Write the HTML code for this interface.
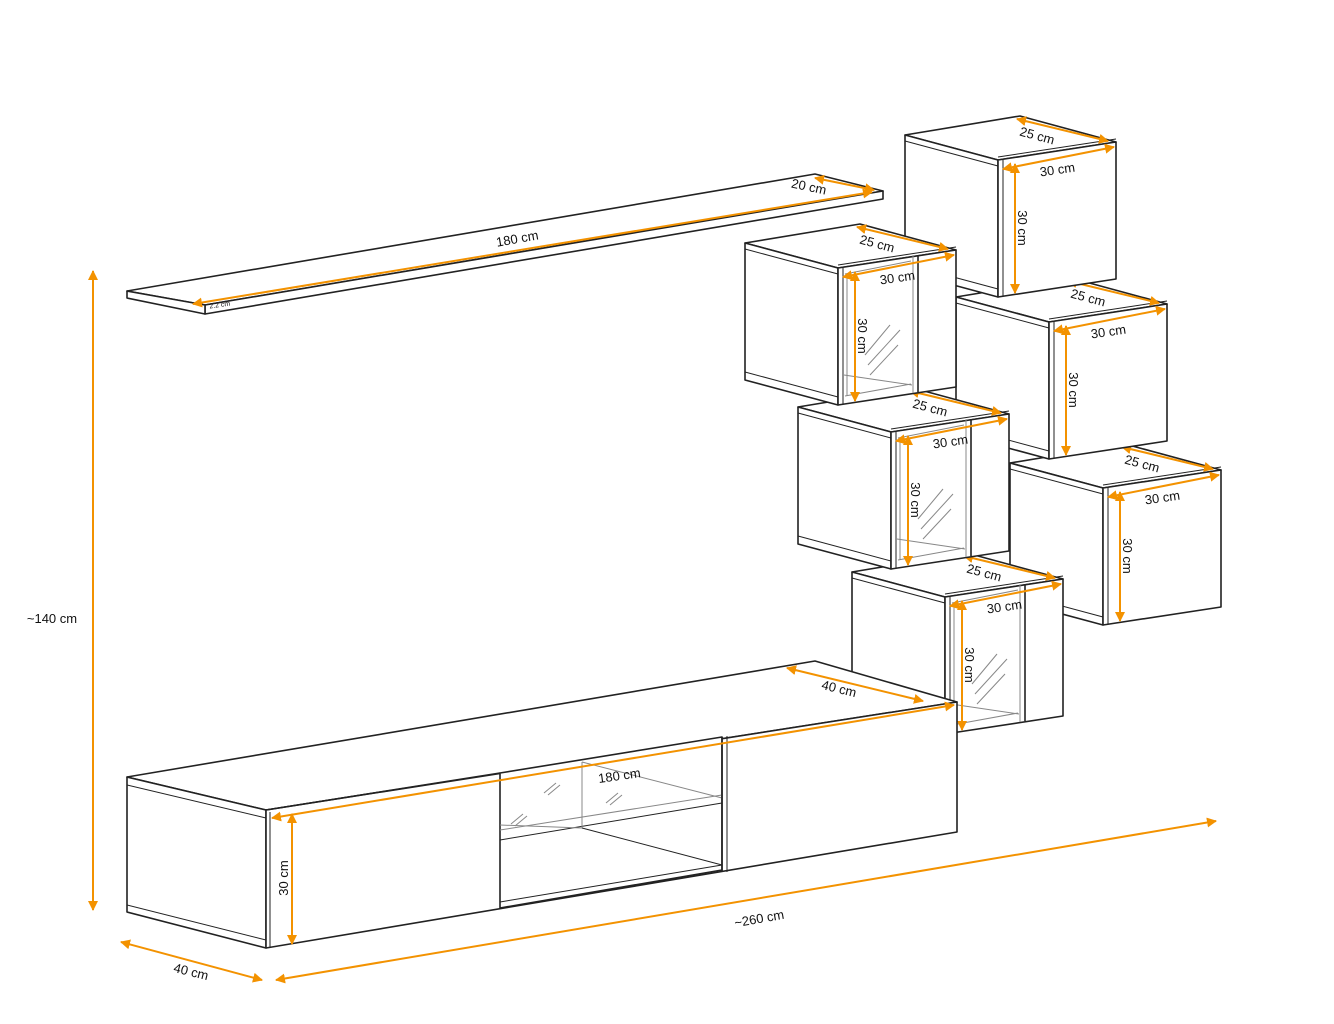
<!DOCTYPE html>
<html><head><meta charset="utf-8"><style>
html,body{margin:0;padding:0;background:#fff;}
svg{display:block;}
text{font-family:"Liberation Sans",sans-serif;font-size:13px;fill:#111;}
</style></head><body>
<svg id="s" width="1334" height="1024" viewBox="0 0 1334 1024" xmlns="http://www.w3.org/2000/svg">
<defs>
<marker id="a" viewBox="0 0 10 10" refX="9" refY="5" markerWidth="5" markerHeight="5" orient="auto-start-reverse"><path d="M0,0L10,5L0,10z" fill="#f39200"/></marker>
</defs>
<g id="g" stroke="#222" stroke-width="1.6" fill="#fff" stroke-linejoin="round"></g>
</svg>
<script>
var g=document.getElementById('g');var h='';
function P(pts,extra){h+='<polygon points="'+pts.map(p=>p.join(',')).join(' ')+'" '+(extra||'')+'/>';}
function L(a,b,st){h+='<line x1="'+a[0]+'" y1="'+a[1]+'" x2="'+b[0]+'" y2="'+b[1]+'" '+(st||'')+'/>';}
function D(a,b){L(a,b,'stroke="#f39200" stroke-width="2" marker-start="url(#a)" marker-end="url(#a)"');}
function T(x,y,t,r,fs){h+='<text x="'+x+'" y="'+y+'" stroke="none" text-anchor="middle" transform="rotate('+r+' '+x+' '+y+')"'+(fs?' style="font-size:'+fs+'px"':'')+'>'+t+'</text>';}
var G='stroke="#888" stroke-width="1"';
function cube(fx,fy,glass){
 var bl=[fx-93,fy-25],br=[fx+22,fy-44],fr=[fx+118,fy-18],H=137;
 P([bl,br,fr,[fx,fy]]);
 P([bl,[fx,fy],[fx,fy+H],[bl[0],bl[1]+H]]);
 L([bl[0],bl[1]+6],[fx,fy+6],'stroke-width="1"');
 L([bl[0],bl[1]+H-8],[fx,fy+H-8],'stroke-width="1"');
 P([[fx,fy],fr,[fr[0],fr[1]+H],[fx,fy+H]]);
 L([fx+5,fy-1],[fx+5,fy+H-1],'stroke-width="1"');
 L([fx,fy-3],[fr[0],fr[1]-3],'stroke-width="1"');
 if(glass){
  var gx=fx+80;L([gx,fy-13],[gx,fy+H-13]);L([gx-5,fy-12],[gx-5,fy+H-12],G);
  L([fx+7,fy+6],[gx-7,fy-7],G);L([fx+7,fy+H-9],[gx-7,fy+H-21],G);
  L([fx+9,fy+6],[fx+9,fy+H-9],G);
  L([fx+6,fy+107],[gx-6,fy+117],G);
  L([fx+27,fy+87],[fx+52,fy+57],G);L([fx+30,fy+97],[fx+62,fy+62],G);L([fx+32,fy+107],[fx+60,fy+77],G);
 }
 D([br[0]-3,br[1]+3],[fr[0]-8,fr[1]-1]);
 D([fx+5,fy+9],[fr[0]-2,fr[1]+5]);
 D([fx+17,fy+4],[fx+17,fy+H-4]);
 T(fx+38,fy-20,'25 cm',15);T(fx+60,fy+14,'30 cm',-8);T(fx+20,fy+68,'30 cm',90);
}
// shelf
P([[127,291],[815,174],[883,191],[205,305]]);
P([[205,305],[883,191],[883,199],[205,314]]);
P([[127,291],[205,305],[205,314],[127,298]]);
D([193,304],[872,192]);D([815,178],[874,190]);
T(518,243,'180 cm',-10);T(808,191,'20 cm',12);T(220,307,'2.2 cm',-8,7);
cube(1103,488,0);cube(1049,322,0);cube(998,160,0);
cube(945,597,1);cube(891,432,1);cube(838,268,1);
// tv unit
P([[127,777],[815,661],[957,702],[266,810]]);
P([[127,777],[266,810],[266,948],[127,912]]);
L([127,785],[266,818],'stroke-width="1"');L([127,905],[266,940],'stroke-width="1"');
P([[266,810],[957,702],[957,832],[266,948]]);
P([[500,773],[722,737],[722,870],[500,908]]);
L([500,840],[722,803],'stroke-width="1"');L([500,830],[722,795],G);
L([582,762],[582,828],G);L([582,762],[722,798],G);L([500,825],[582,828],G);
L([500,902],[722,865],'stroke-width="1"');L([582,828],[722,865],'stroke-width="1"');
L([722,737],[722,872]);L([727,736],[727,872],'stroke-width="1"');L([266,810],[500,773]);L([270,812],[270,948],'stroke-width="1"');
L([544,793],[556,783],G);L([548,795],[560,785],G);
L([511,824],[523,814],G);L([515,826],[527,816],G);
L([606,803],[618,793],G);L([610,805],[622,795],G);
D([272,818],[954,705]);D([787,668],[923,701]);D([292,814],[292,944]);
T(620,780,'180 cm',-8);T(838,693,'40 cm',14);T(288,878,'30 cm',-90);
// overall dims
D([93,271],[93,910]);T(52,623,'~140 cm',0);
D([121,942],[262,980]);T(190,976,'40 cm',14);
D([276,980],[1216,821]);T(760,923,'~260 cm',-10);
g.innerHTML=h;
</script>
</body></html>
